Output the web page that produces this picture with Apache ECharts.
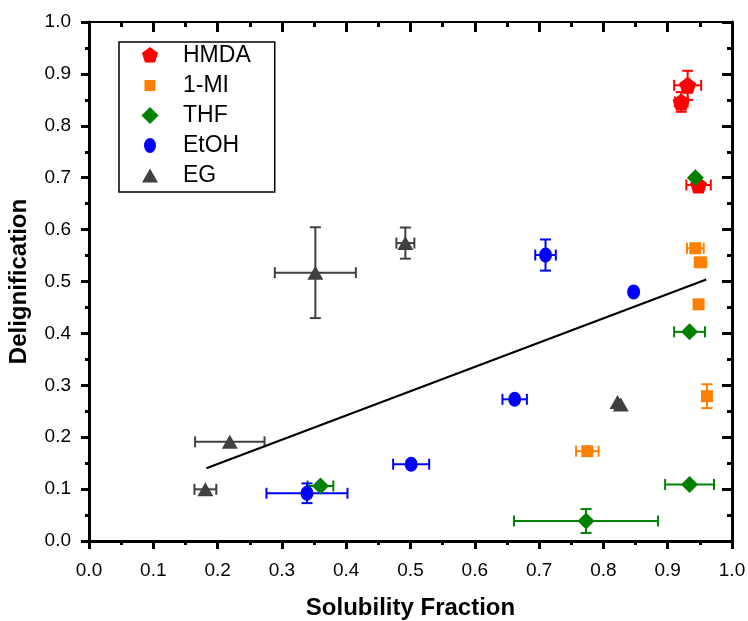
<!DOCTYPE html>
<html>
<head>
<meta charset="utf-8">
<script src="https://cdn.jsdelivr.net/npm/echarts@6/dist/echarts.min.js"></script>
<style>
  html, body { margin: 0; padding: 0; background: #fff; }
  #chart { width: 748px; height: 621px; }
</style>
</head>
<body>
<div id="chart"></div>
<script>
// values
const seriesNames = ['HMDA', '1-MI', 'THF', 'EtOH', 'EG'];
const seriesColors = ['#ff0000', '#ff8000', '#008000', '#0000ff', '#404040'];

const hmdaX = [0.931, 0.921, 0.948];
const hmdaY = [0.878, 0.846, 0.686];
const hmdaXErr = [0.021, 0.010, 0.019];
const hmdaYErr = [0.028, 0.019, 0];

const miX = [0.943, 0.951, 0.948, 0.961, 0.775];
const miY = [0.564, 0.537, 0.456, 0.279, 0.173];
const miXErr = [0.013, 0.009, 0, 0, 0.0175];
const miYErr = [0, 0, 0, 0.023, 0];

const thfX = [0.943, 0.934, 0.934, 0.360, 0.773];
const thfY = [0.700, 0.403, 0.109, 0.106, 0.0385];
const thfXErr = [0, 0.024, 0.038, 0.020, 0.112];
const thfYErr = [0, 0, 0, 0, 0.023];

const etohX = [0.847, 0.710, 0.662, 0.501, 0.339];
const etohY = [0.480, 0.551, 0.273, 0.148, 0.092];
const etohXErr = [0, 0.016, 0.019, 0.028, 0.063];
const etohYErr = [0, 0.030, 0, 0, 0.019];

const egX = [0.352, 0.492, 0.822, 0.827, 0.219, 0.181];
const egY = [0.517, 0.574, 0.268, 0.263, 0.191, 0.0996];
const egXErr = [0.063, 0.014, 0, 0, 0.054, 0.017];
const egYErr = [0.0875, 0.030, 0, 0, 0, 0];

// fitted line end points
const fitX = [0.1825, 0.960];
const fitY = [0.140, 0.504];

const pentagon = 'path://M0,-1 L0.951,-0.309 L0.588,0.809 L-0.588,0.809 L-0.951,-0.309 Z';
const FONT = '"Liberation Sans", Arial, sans-serif';

// legend icons: drawn in a 56x18 frame so the marker keeps its own size
const FRAME = 'path://M0,0 M56,18 ';
const legendIcons = [
  FRAME + 'M28,0.5 L36.1,6.4 L33,15.9 L23,15.9 L19.9,6.4 Z',
  FRAME + 'M22.5,3.5 L33.5,3.5 L33.5,14.5 L22.5,14.5 Z',
  FRAME + 'M28,0.5 L36.5,9 L28,17.5 L19.5,9 Z',
  FRAME + 'M22,9 A6,7.5 0 1,0 34,9 A6,7.5 0 1,0 22,9 Z',
  FRAME + 'M28,2 L36,16 L20,16 Z'
];

const groups = [
  { xs: hmdaX, ys: hmdaY, xe: hmdaXErr, ye: hmdaYErr, symbol: pentagon, size: 17 },
  { xs: miX, ys: miY, xe: miXErr, ye: miYErr, symbol: 'rect', size: 12 },
  { xs: thfX, ys: thfY, xe: thfXErr, ye: thfYErr, symbol: 'diamond', size: 17 },
  { xs: etohX, ys: etohY, xe: etohXErr, ye: etohYErr, symbol: 'circle', size: [13, 15] },
  { xs: egX, ys: egY, xe: egXErr, ye: egYErr, symbol: 'triangle', size: [16, 14] }
];

// error bars with caps, drawn with a custom series
function errorBars(name, color, g) {
  const data = g.xs.map((x, i) => [x, g.ys[i], g.xe[i], g.ye[i]]);
  return {
    type: 'custom',
    name: name + ' err',
    data: data,
    z: 1,
    silent: true,
    encode: { x: 0, y: 1 },
    renderItem: function (params, api) {
      const x = api.value(0), y = api.value(1);
      const dx = api.value(2), dy = api.value(3);
      const cap = 5.5;
      const style = { stroke: color, lineWidth: 2 };
      const kids = [];
      const seg = (x1, y1, x2, y2) => kids.push({ type: 'line', shape: { x1, y1, x2, y2 }, style });
      if (dx > 0) {
        const a = api.coord([x - dx, y]), b = api.coord([x + dx, y]);
        seg(a[0], a[1], b[0], b[1]);
        seg(a[0], a[1] - cap, a[0], a[1] + cap);
        seg(b[0], b[1] - cap, b[0], b[1] + cap);
      }
      if (dy > 0) {
        const a = api.coord([x, y - dy]), b = api.coord([x, y + dy]);
        seg(a[0], a[1], b[0], b[1]);
        seg(a[0] - cap, a[1], a[0] + cap, a[1]);
        seg(b[0] - cap, b[1], b[0] + cap, b[1]);
      }
      return { type: 'group', children: kids };
    }
  };
}

const series = [];
groups.forEach((g, i) => {
  series.push({
    type: 'scatter',
    name: seriesNames[i],
    data: g.xs.map((x, k) => [x, g.ys[k]]),
    symbol: g.symbol,
    symbolSize: g.size,
    itemStyle: { color: seriesColors[i], opacity: 1 },
    z: 3
  });
});
groups.forEach((g, i) => series.push(errorBars(seriesNames[i], seriesColors[i], g)));
series.push({
  type: 'line',
  name: 'fit',
  data: fitX.map((x, i) => [x, fitY[i]]),
  showSymbol: false,
  lineStyle: { color: '#000', width: 2.2 },
  z: 2,
  silent: true
});

function mainAxis(pos, name, gap) {
  return {
    type: 'value', position: pos, min: 0, max: 1, interval: 0.1,
    name: name, nameLocation: 'middle', nameGap: gap,
    nameTextStyle: { fontFamily: FONT, fontWeight: 'bold', fontSize: 24, color: '#000' },
    axisLine: { show: true, onZero: false, lineStyle: { color: '#000', width: 3 } },
    axisTick: { show: true, inside: false, length: 8, lineStyle: { color: '#000', width: 3 } },
    minorTick: { show: true, splitNumber: 2, length: 4, lineStyle: { color: '#000', width: 3 } },
    axisLabel: { fontFamily: FONT, fontSize: 19, color: '#000', margin: 20, formatter: v => v.toFixed(1) },
    splitLine: { show: false }
  };
}
function mirrorAxis(pos, w) {
  return {
    type: 'value', position: pos, min: 0, max: 1, interval: 0.1,
    axisLine: { show: true, onZero: false, lineStyle: { color: '#000', width: w } },
    axisTick: { show: true, inside: true, length: 10, lineStyle: { color: '#000', width: 3 } },
    minorTick: { show: true, splitNumber: 2, length: 5, lineStyle: { color: '#000', width: 3 } },
    axisLabel: { show: false },
    splitLine: { show: false }
  };
}

const xMain = mainAxis('bottom', 'Solubility Fraction', 55);
const yMain = mainAxis('left', 'Delignification', 58);
yMain.axisLabel.margin = 18;

const chart = echarts.init(document.getElementById('chart'), null, { renderer: 'canvas' });
chart.setOption({
  animation: false,
  backgroundColor: '#fff',
  grid: { left: 89, right: 16, top: 22, bottom: 80, outerBoundsMode: 'none', containLabel: false },
  xAxis: [xMain, mirrorAxis('top', 2)],
  yAxis: [yMain, mirrorAxis('right', 3)],
  legend: {
    data: seriesNames.map((n, i) => ({ name: n, icon: legendIcons[i] })),
    orient: 'vertical',
    left: 119, top: 42,
    itemWidth: 56, itemHeight: 18, itemGap: 7,
    padding: [2, 24, 5, 3],
    borderColor: '#000', borderWidth: 1.5,
    textStyle: { fontFamily: FONT, fontSize: 23, color: '#000' },
    selectedMode: false
  },
  series: series
});
</script>
</body>
</html>
